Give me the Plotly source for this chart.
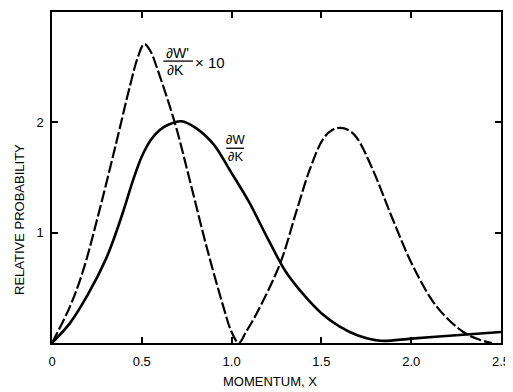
import plotly.graph_objects as go

# dW/dK (solid)
solid_x = [0, 0.10, 0.20, 0.30, 0.35, 0.40, 0.45, 0.50, 0.55, 0.60, 0.65, 0.72, 0.80, 0.90, 1.00, 1.10, 1.20, 1.30, 1.40, 1.50, 1.60, 1.70, 1.83, 2.00, 2.25, 2.50]
solid_y = [0, 0.18, 0.44, 0.76, 0.97, 1.21, 1.47, 1.69, 1.84, 1.93, 1.98, 2.01, 1.95, 1.80, 1.54, 1.27, 0.95, 0.65, 0.44, 0.27, 0.15, 0.07, 0.02, 0.04, 0.07, 0.10]

# dW'/dK x 10 (dashed)
dash_x = [0, 0.10, 0.174, 0.267, 0.36, 0.434, 0.48, 0.514, 0.55, 0.583, 0.685, 0.768, 0.861, 0.954, 1.00, 1.04, 1.08, 1.14, 1.27, 1.362, 1.437, 1.51, 1.56, 1.604, 1.65, 1.697, 1.789, 1.90, 2.012, 2.142, 2.29, 2.38, 2.45]
dash_y = [0, 0.33, 0.66, 1.22, 1.83, 2.33, 2.60, 2.71, 2.64, 2.50, 1.99, 1.47, 0.87, 0.33, 0.10, 0.0, 0.10, 0.27, 0.72, 1.20, 1.58, 1.85, 1.93, 1.95, 1.93, 1.86, 1.56, 1.11, 0.69, 0.33, 0.10, 0.03, 0]

x_ticks = [0, 0.5, 1.0, 1.5, 2.0, 2.5]
x_tick_labels = ["0", "0.5", "1.0", "1.5", "2.0", "2.5"]
y_ticks = [1, 2]
y_tick_labels = ["1", "2"]

FONT = "Liberation Sans, Arial, sans-serif"

fig = go.Figure()
fig.add_trace(go.Scatter(x=dash_x, y=dash_y, mode="lines",
                         line=dict(color="black", width=2.2, dash="12px,3px", shape="spline", smoothing=1.0),
                         showlegend=False, hoverinfo="skip"))
fig.add_trace(go.Scatter(x=solid_x, y=solid_y, mode="lines",
                         line=dict(color="black", width=2.6, shape="spline", smoothing=0.9),
                         showlegend=False, hoverinfo="skip"))

axis_common = dict(showline=True, linecolor="black", linewidth=1.5, mirror="ticks",
                   ticks="inside", ticklen=6, tickwidth=1.5, tickcolor="black",
                   showgrid=False, zeroline=False, automargin=False,
                   tickfont=dict(family=FONT, size=13, color="black"))

fig.update_xaxes(range=[0, 2.5], tickvals=x_ticks, ticktext=x_tick_labels,
                 ticklabelstandoff=6, **axis_common)
fig.update_yaxes(range=[0, 3], tickvals=y_ticks, ticktext=y_tick_labels,
                 ticklabelstandoff=4, **axis_common)

anns = [
    dict(text="RELATIVE PROBABILITY", xref="paper", yref="paper", x=-0.071, y=0.372,
         xanchor="center", yanchor="middle",
         textangle=-90, showarrow=False, font=dict(family=FONT, size=13, color="black")),
    dict(text="MOMENTUM, X", xref="paper", yref="paper", x=0.486, y=-0.115,
         xanchor="center", yanchor="middle",
         showarrow=False, font=dict(family=FONT, size=13, color="black")),
    dict(text="∂W'", x=0.70, y=2.63, showarrow=False, font=dict(family=FONT, size=14, color="black")),
    dict(text="∂K", x=0.69, y=2.47, showarrow=False, font=dict(family=FONT, size=14, color="black")),
    dict(text="× 10", x=0.88, y=2.54, showarrow=False, font=dict(family=FONT, size=15, color="black")),
    dict(text="∂W", x=1.02, y=1.84, showarrow=False, font=dict(family=FONT, size=13, color="black")),
    dict(text="∂K", x=1.02, y=1.69, showarrow=False, font=dict(family=FONT, size=13, color="black")),
]
fig.update_layout(annotations=anns)
fig.add_shape(type="line", x0=0.62, x1=0.785, y0=2.555, y1=2.555, line=dict(color="black", width=1.3))
fig.add_shape(type="line", x0=0.97, x1=1.07, y0=1.765, y1=1.765, line=dict(color="black", width=1.3))

# page body has an 8px margin, so the figure is sized to fit the 513x392 window
fig.update_layout(width=505, height=384, margin=dict(l=44, r=12, t=4, b=49),
                  paper_bgcolor="white", plot_bgcolor="white",
                  font=dict(family=FONT, color="black"))

fig.write_html("out.html")
